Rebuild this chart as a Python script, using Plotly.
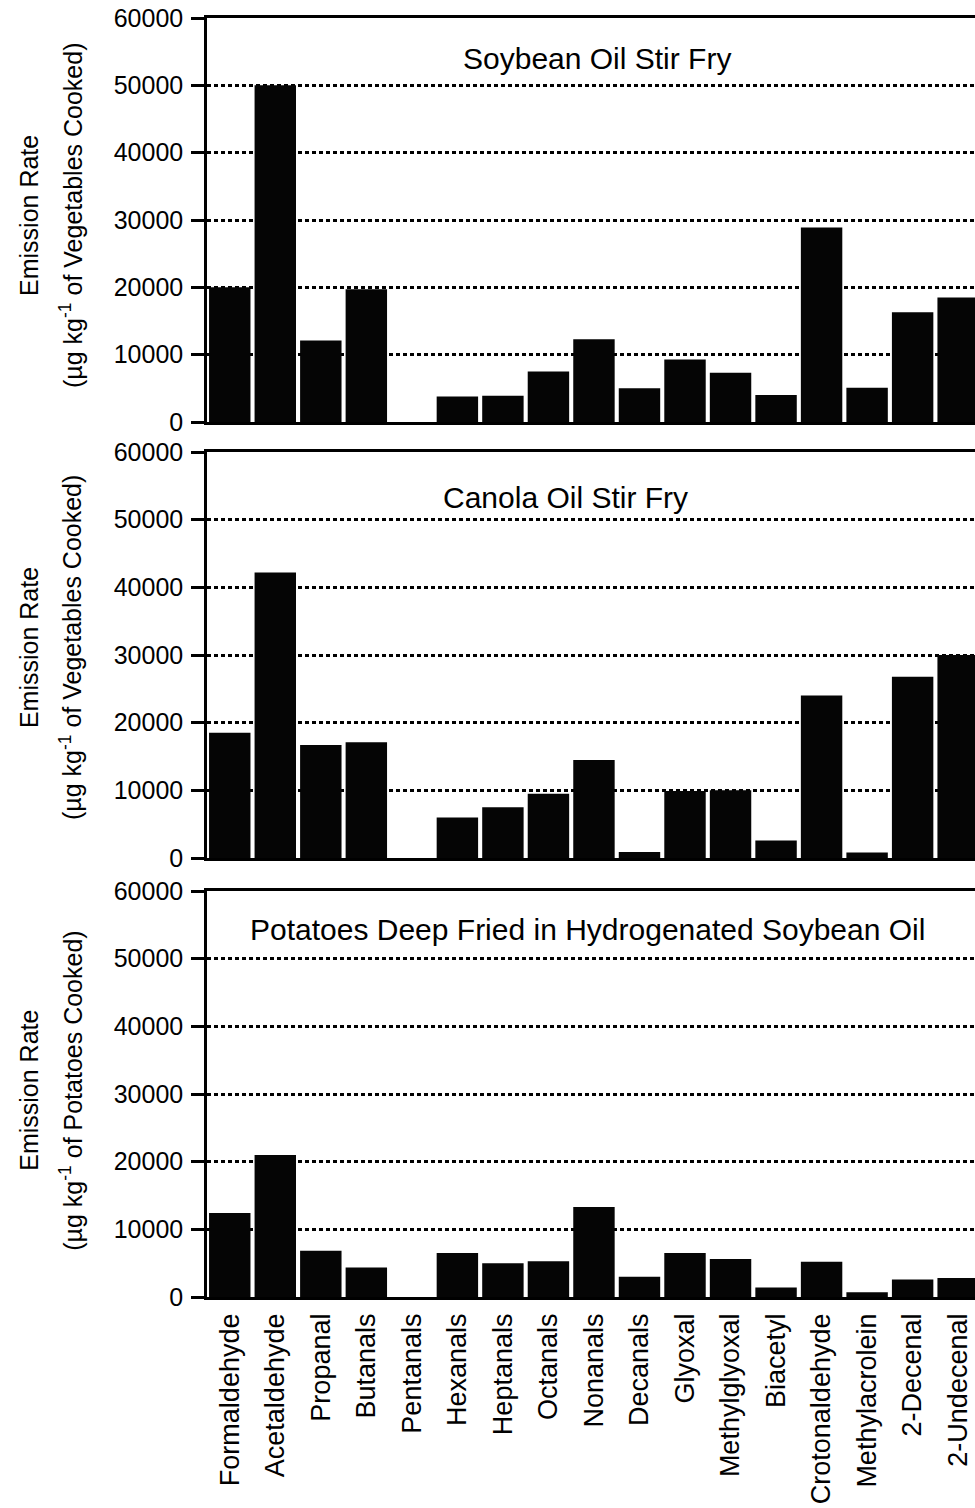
import plotly.graph_objects as go

categories = ["Formaldehyde", "Acetaldehyde", "Propanal", "Butanals", "Pentanals",
              "Hexanals", "Heptanals", "Octanals", "Nonanals", "Decanals", "Glyoxal",
              "Methylglyoxal", "Biacetyl", "Crotonaldehyde", "Methylacrolein",
              "2-Decenal", "2-Undecenal"]

soybean_stir_fry = [20000, 50000, 12100, 19700, 0, 3800, 3900, 7500, 12300, 5000,
                    9300, 7300, 4000, 28900, 5100, 16300, 18500]
canola_stir_fry = [18500, 42200, 16700, 17100, 0, 6000, 7500, 9500, 14500, 900,
                   9900, 10000, 2600, 24000, 800, 26800, 30000]
potatoes_deep_fried = [12400, 21000, 6850, 4350, 0, 6500, 5000, 5300, 13300, 3000,
                       6500, 5600, 1400, 5200, 700, 2600, 2800]

panel_titles = ["Soybean Oil Stir Fry", "Canola Oil Stir Fry",
                "Potatoes Deep Fried in Hydrogenated Soybean Oil"]
y_title_line1 = ["Emission Rate", "Emission Rate", "Emission Rate"]
y_title_line2 = ["(µg kg<sup>-1</sup> of Vegetables Cooked)",
                 "(µg kg<sup>-1</sup> of Vegetables Cooked)",
                 "(µg kg<sup>-1</sup> of Potatoes Cooked)"]
y_ticks = [0, 10000, 20000, 30000, 40000, 50000, 60000]

series = [soybean_stir_fry, canola_stir_fry, potatoes_deep_fried]

FONT = "Liberation Sans, Arial, sans-serif"
W, H = 975, 1508
L, T, B = 207, 10, 211
pw = W - L
ph = H - T - B
# pixel rows of each panel (top, bottom)
panels_px = [(18, 422), (452, 858), (891, 1297)]
domains = [[(H - B - bot) / ph, (H - B - top) / ph] for top, bot in panels_px]
title_pos = [(0.508, 0.90), (0.467, 0.889), (0.495, 0.906)]
ytitle_y = [0.51, 0.517, 0.508]
line1_x = (29 - L) / pw
line2_x = (71 - L) / pw

fig = go.Figure()
for i, vals in enumerate(series):
    n = "" if i == 0 else str(i + 1)
    fig.add_trace(go.Bar(x=categories, y=vals, xaxis="x" + n, yaxis="y" + n,
                         marker=dict(color="#050505", line=dict(width=0)),
                         showlegend=False))
    fig.layout["xaxis" + n] = dict(
        type="category", range=[-0.5, 16.37], domain=[0, 1], anchor="y" + n,
        showline=True, mirror=True, linewidth=2.5, linecolor="black",
        ticks="", showgrid=False, zeroline=False, automargin=False,
        showticklabels=(i == 2), tickangle=-90, ticklabelstandoff=3,
        tickfont=dict(family=FONT, size=27, color="black"))
    fig.layout["yaxis" + n] = dict(
        range=[0, 60000], domain=domains[i], anchor="x" + n,
        tickvals=y_ticks, ticktext=[str(v) for v in y_ticks],
        ticks="outside", ticklen=13, tickwidth=2.5, tickcolor="black",
        showline=True, linewidth=2.5, linecolor="black", mirror=False,
        showgrid=True, gridcolor="black", gridwidth=2.5, griddash="4px,3px",
        zeroline=False, automargin=False, ticklabelstandoff=3,
        tickfont=dict(family=FONT, size=25, color="black"))
    fig.add_annotation(text=panel_titles[i], xref="x%s domain" % n, yref="y%s domain" % n,
                       x=title_pos[i][0], y=title_pos[i][1], showarrow=False,
                       xanchor="center", yanchor="middle",
                       font=dict(family=FONT, size=30, color="black"))
    fig.add_annotation(text=y_title_line1[i], xref="paper", yref="y%s domain" % n,
                       x=line1_x, y=ytitle_y[i], textangle=-90, showarrow=False,
                       xanchor="center", yanchor="middle",
                       font=dict(family=FONT, size=25, color="black"))
    fig.add_annotation(text=y_title_line2[i], xref="paper", yref="y%s domain" % n,
                       x=line2_x, y=ytitle_y[i], textangle=-90, showarrow=False,
                       xanchor="center", yanchor="middle",
                       font=dict(family=FONT, size=25, color="black"))

fig.update_layout(width=W, height=H, template="none",
                  margin=dict(l=L, r=0, t=T, b=B, pad=0),
                  paper_bgcolor="white", plot_bgcolor="white",
                  bargap=0.09, font=dict(family=FONT, color="black"))

fig.write_html("out.html")
